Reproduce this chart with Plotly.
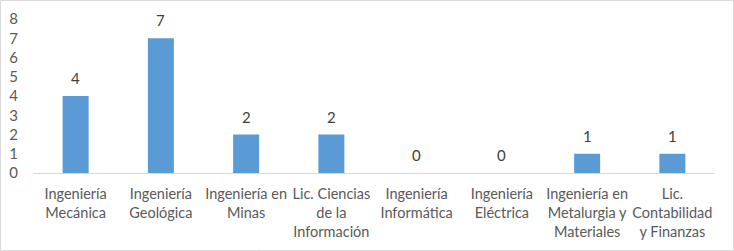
import plotly.graph_objects as go

categories = [
    "Ingeniería<br>Mecánica",
    "Ingeniería<br>Geológica",
    "Ingeniería en<br>Minas",
    "Lic. Ciencias<br>de la<br>Información",
    "Ingeniería<br>Informática",
    "Ingeniería<br>Eléctrica",
    "Ingeniería en<br>Metalurgia y<br>Materiales",
    "Lic.<br>Contabilidad<br>y Finanzas",
]
values = [4, 7, 2, 2, 0, 0, 1, 1]
y_ticks = [0, 1, 2, 3, 4, 5, 6, 7, 8]

W, H = 734, 251
L, R, T, B = 33, 19, 19, 78
pw, ph = W - L - R, H - T - B

font_family = "Lato, Carlito, Calibri, sans-serif"
text_color = "#595959"

fig = go.Figure()
fig.add_trace(go.Bar(
    x=categories,
    y=values,
    marker=dict(color="#5B9BD5", line=dict(width=0)),
    cliponaxis=False,
))

for c, v in zip(categories, values):
    fig.add_annotation(
        x=c, y=v, xref="x", yref="y",
        text=str(v), showarrow=False,
        yanchor="bottom", yshift=7,
        font=dict(family=font_family, size=15, color="#404040"),
    )

fig.update_layout(
    width=W, height=H,
    margin=dict(l=L, r=R, t=T, b=B, autoexpand=False),
    paper_bgcolor="white",
    plot_bgcolor="white",
    bargap=0.695,
    showlegend=False,
    font=dict(family=font_family, size=14, color=text_color),
    xaxis=dict(
        automargin=False,
        showgrid=False,
        showline=True,
        linecolor="#D9D9D9",
        linewidth=1,
        ticks="",
        tickangle=0,
        ticklabelstandoff=8,
        tickfont=dict(family=font_family, size=14.5, color=text_color),
    ),
    yaxis=dict(
        automargin=False,
        range=[0, 8],
        tickvals=y_ticks,
        showgrid=False,
        showline=False,
        zeroline=False,
        ticks="",
        ticklabelstandoff=14,
        tickfont=dict(family=font_family, size=15, color=text_color),
    ),
)

fig.add_shape(
    type="rect", xref="paper", yref="paper",
    x0=-(L - 0.5) / pw, x1=1 + (R - 0.5) / pw,
    y0=-(B - 0.5) / ph, y1=1 + (T - 0.5) / ph,
    line=dict(color="#D9D9D9", width=1),
    fillcolor="rgba(0,0,0,0)",
    layer="below",
)

fig.write_html(
    "out.html",
    config={"displayModeBar": False},
    post_script="document.body.style.margin='0';document.body.style.overflow='hidden';",
)
